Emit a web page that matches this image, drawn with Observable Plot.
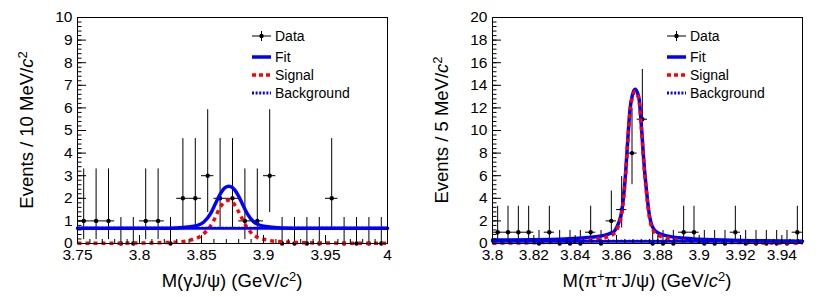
<!DOCTYPE html>
<html><head><meta charset="utf-8">
<script src="https://cdn.jsdelivr.net/npm/d3@7"></script>
<script src="https://cdn.jsdelivr.net/npm/@observablehq/plot@0.6"></script>
<style>
html,body{margin:0;padding:0;background:#fff;}
#wrap{display:flex;width:830px;height:297px;}
svg text{font-family:"Liberation Sans",Arial,Helvetica,sans-serif;}
</style></head><body><div id="wrap"></div>
<script>
// ---------- Left panel: M(γJ/ψ), 10 MeV bins ----------
const gBins   = [3.755,3.765,3.775,3.785,3.795,3.805,3.815,3.825,3.835,3.845,3.855,3.865,3.875,3.885,3.895,3.905,3.915,3.925,3.935,3.945,3.955,3.965,3.975,3.985,3.995];
const gCounts = [1,1,1,0,0,1,1,0,2,2,3,2,2,1,1,3,0,0,0,0,2,0,0,0,0];
const gErrLo  = [0.17,0.17,0.17,0,0,0.17,0.17,0,0.71,0.71,1.37,0.71,0.71,0.17,0.17,1.37,0,0,0,0,0.71,0,0,0,0];
const gErrHi  = [3.3,3.3,3.3,1.15,1.15,3.3,3.3,1.15,4.64,4.64,5.92,4.64,4.64,3.3,3.3,5.92,1.15,1.15,1.15,1.15,4.64,1.15,1.15,1.15,1.15];
const gFitM = [3.75,3.80,3.825,3.835,3.8438,3.8519,3.8573,3.8613,3.8653,3.869,3.872,3.875,3.8788,3.8828,3.8869,3.8922,3.9003,3.911,3.93,4.0];
const gFitV = [0.67,0.67,0.68,0.71,0.76,0.95,1.32,1.77,2.21,2.47,2.53,2.47,2.21,1.77,1.32,0.95,0.76,0.70,0.68,0.67];
const gSigM = [3.75,3.80,3.8304,3.8411,3.8505,3.8586,3.8653,3.869,3.872,3.875,3.8801,3.8855,3.8922,3.903,3.9164,3.95,4.0];
const gSigV = [0.01,0.02,0.06,0.15,0.37,0.88,1.62,1.85,1.91,1.83,1.39,0.81,0.37,0.15,0.07,0.02,0.01];
const gBkgM = [3.75,4.0];
const gBkgV = [0.67,0.67];
const gXTicks = [3.75,3.8,3.85,3.9,3.95,4];
const gYTicks = [0,1,2,3,4,5,6,7,8,9,10];

// ---------- Right panel: M(π+π-J/ψ), 5 MeV bins ----------
const pBins   = [3.8025,3.8075,3.8125,3.8175,3.8225,3.8275,3.8325,3.8375,3.8425,3.8475,3.8525,3.8575,3.8625,3.8675,3.8725,3.8775,3.8825,3.8875,3.8925,3.8975,3.9025,3.9075,3.9125,3.9175,3.9225,3.9275,3.9325,3.9375,3.9425,3.9475];
const pCounts = [1,1,1,1,0,1,0,0,0,1,0,2,3,8,11,0,0,0,1,1,0,0,0,1,0,0,0,0,0,1];
const pErrLo  = [0.17,0.17,0.17,0.17,0,0.17,0,0,0,0.17,0,0.71,1.37,5.2,7.7,0,0,0,0.17,0.17,0,0,0,0.17,0,0,0,0,0,0.17];
const pErrHi  = [3.3,3.3,3.3,3.3,1.15,3.3,1.15,1.15,1.15,3.3,1.15,4.64,5.92,11.95,15.4,1.15,1.15,1.15,3.3,3.3,1.15,1.15,1.15,3.3,1.15,1.15,1.15,1.15,1.15,3.3];
const pFitM = [3.80,3.82,3.835,3.845,3.85,3.854,3.857,3.859,3.861,3.8625,3.8635,3.8645,3.8655,3.8665,3.8678,3.869,3.870,3.871,3.8722,3.8733,3.8745,3.8758,3.8774,3.880,3.885,3.890,3.900,3.920,3.950];
const pFitV = [0.30,0.33,0.40,0.50,0.60,0.72,0.90,1.10,1.80,2.8,4.3,6.5,9.3,11.8,13.2,13.65,13.4,12.7,10.0,7.1,4.7,2.65,1.47,0.95,0.65,0.50,0.38,0.27,0.20];
const pSigM = [3.80,3.82,3.835,3.845,3.85,3.854,3.857,3.859,3.861,3.8625,3.8635,3.8645,3.8655,3.8665,3.8678,3.869,3.870,3.871,3.8722,3.8733,3.8745,3.8758,3.8774,3.880,3.885,3.890,3.900,3.920,3.950];
const pSigV = [0.03,0.07,0.15,0.28,0.38,0.50,0.70,0.90,1.60,2.6,4.1,6.3,9.1,11.6,13.0,13.45,13.2,12.5,9.8,6.9,4.5,2.45,1.27,0.75,0.45,0.30,0.18,0.08,0.03];
const pBkgM = [3.80,3.95];
const pBkgV = [0.20,0.20];
const pXTicks = [3.8,3.82,3.84,3.86,3.88,3.9,3.92,3.94];
const pYTicks = [0,2,4,6,8,10,12,14,16,18,20];

const legendLabels = ["Data","Fit","Signal","Background"];
const BLUE = "#0000ff", RED = "#ff0000";
const fmt = d => String(+d.toFixed(4));

function panel(cfg) {
  const rows = cfg.bins.map((m, i) => ({m, n: cfg.counts[i], lo: cfg.lo[i], hi: cfg.hi[i]}));
  const fit = cfg.fitM.map((m, i) => ({m, v: cfg.fitV[i]}));
  const sig = cfg.sigM.map((m, i) => ({m, v: cfg.sigV[i]}));
  const bkg = cfg.bkgM.map((m, i) => ({m, v: cfg.bkgV[i]}));
  const half = cfg.binWidth / 2;
  const svg = Plot.plot({
    width: 415, height: 297,
    marginLeft: 77, marginRight: 28, marginTop: 17, marginBottom: 54,
    style: {fontFamily: "Liberation Sans, Arial, sans-serif", fontSize: "15.5px", color: "black", background: "white", overflow: "visible"},
    x: {domain: cfg.xDomain, label: null},
    y: {domain: cfg.yDomain, label: null},
    marks: [
      Plot.ruleX(rows, {x: "m", y1: "lo", y2: "hi", stroke: "black", strokeWidth: 1}),
      Plot.ruleY(rows, {y: "n", x1: d => d.m - half, x2: d => d.m + half, stroke: "black", strokeWidth: 1}),
      Plot.dot(rows, {x: "m", y: "n", r: 2.2, fill: "black", stroke: "none"}),
      Plot.line(fit, {x: "m", y: "v", stroke: BLUE, strokeWidth: 3.5, curve: "monotone-x"}),
      Plot.line(sig, {x: "m", y: "v", stroke: RED, strokeWidth: 3.5, strokeDasharray: "4,4", strokeLinecap: "butt", curve: "monotone-x"}),
      Plot.line(bkg, {x: "m", y: "v", stroke: BLUE, strokeWidth: 3, strokeDasharray: "2,2", curve: "linear"}),
      Plot.frame({stroke: "black", strokeWidth: 1}),
      Plot.axisX(cfg.xMinor, {tickSize: -4, fill: "none", label: null}),
      Plot.axisX(cfg.xTicks, {tickSize: -8, fill: "none", label: null}),
      Plot.axisX(cfg.xTicks, {tickSize: 0, tickPadding: 5, fontSize: 15.5, tickFormat: fmt, label: null}),
      Plot.axisY(cfg.yMinor, {anchor: "left", tickSize: -4.5, fill: "none", label: null}),
      Plot.axisY(cfg.yTicks, {anchor: "left", tickSize: -9, fill: "none", label: null}),
      Plot.axisY(cfg.yTicks, {anchor: "left", tickSize: 0, tickPadding: 5, fontSize: 15.5, tickFormat: fmt, label: null})
    ]
  });
  const s = d3.select(svg);
  // y title
  const yt = s.append("text").attr("transform", "translate(33,130) rotate(-90)")
    .attr("text-anchor", "middle").attr("font-size", "18.5px").attr("fill", "black");
  yt.append("tspan").text(cfg.yTitle);
  yt.append("tspan").attr("font-style", "italic").text("c");
  yt.append("tspan").attr("font-size", "0.7em").attr("dy", "-0.5em").text("2");
  // x title
  const xt = s.append("text").attr("x", 232).attr("y", 287)
    .attr("text-anchor", "middle").attr("font-size", "18.5px").attr("fill", "black");
  cfg.xTitleParts.forEach(p => {
    const t = xt.append("tspan").text(p.t);
    if (p.sup) t.attr("font-size", "0.7em").attr("dy", "-0.5em");
    if (p.back) t.attr("dy", "0.35em");
    if (p.it) t.attr("font-style", "italic");
  });
  // legend
  const lg = s.append("g").attr("font-size", "14px").attr("text-anchor", "start");
  const x0 = 252, x1 = 271, ys = [36, 57, 75, 93];
  lg.append("line").attr("x1", x0).attr("x2", x1).attr("y1", ys[0]).attr("y2", ys[0]).attr("stroke", "black");
  lg.append("line").attr("x1", (x0 + x1) / 2).attr("x2", (x0 + x1) / 2).attr("y1", ys[0] - 5).attr("y2", ys[0] + 5).attr("stroke", "black");
  lg.append("circle").attr("cx", (x0 + x1) / 2).attr("cy", ys[0]).attr("r", 2.2).attr("fill", "black");
  lg.append("line").attr("x1", x0).attr("x2", x1).attr("y1", ys[1]).attr("y2", ys[1]).attr("stroke", BLUE).attr("stroke-width", 3.5);
  lg.append("line").attr("x1", x0).attr("x2", x1).attr("y1", ys[2]).attr("y2", ys[2]).attr("stroke", RED).attr("stroke-width", 3.5).attr("stroke-dasharray", "4,3");
  lg.append("line").attr("x1", x0).attr("x2", x1).attr("y1", ys[3]).attr("y2", ys[3]).attr("stroke", BLUE).attr("stroke-width", 3).attr("stroke-dasharray", "2,1.6");
  legendLabels.forEach((l, i) => {
    lg.append("text").attr("x", 275).attr("y", ys[i] + 5).attr("text-anchor", "start").attr("fill", "black").text(l);
  });
  return svg;
}

const wrap = document.getElementById("wrap");
wrap.appendChild(panel({
  bins: gBins, counts: gCounts, lo: gErrLo, hi: gErrHi, binWidth: 0.01,
  fitM: gFitM, fitV: gFitV, sigM: gSigM, sigV: gSigV, bkgM: gBkgM, bkgV: gBkgV,
  xDomain: [3.75, 4], yDomain: [0, 10],
  xTicks: gXTicks, yTicks: gYTicks,
  xMinor: d3.range(0, 26).map(i => 3.75 + i * 0.01),
  yMinor: d3.range(0, 51).map(i => i * 0.2),
  yTitle: "Events / 10 MeV/",
  xTitleParts: [{t: "M(γJ/ψ) (GeV/"}, {t: "c", it: true}, {t: "2", sup: true}, {t: ")", back: true}]
}));
wrap.appendChild(panel({
  bins: pBins, counts: pCounts, lo: pErrLo, hi: pErrHi, binWidth: 0.005,
  fitM: pFitM, fitV: pFitV, sigM: pSigM, sigV: pSigV, bkgM: pBkgM, bkgV: pBkgV,
  xDomain: [3.8, 3.95], yDomain: [0, 20],
  xTicks: pXTicks, yTicks: pYTicks,
  xMinor: d3.range(0, 38).map(i => 3.8 + i * 0.004),
  yMinor: d3.range(0, 51).map(i => i * 0.4),
  yTitle: "Events / 5 MeV/",
  xTitleParts: [{t: "M(π"}, {t: "+", sup: true}, {t: "π", back: true}, {t: "-", sup: true}, {t: "J/ψ) (GeV/", back: true}, {t: "c", it: true}, {t: "2", sup: true}, {t: ")", back: true}]
}));
</script></body></html>
